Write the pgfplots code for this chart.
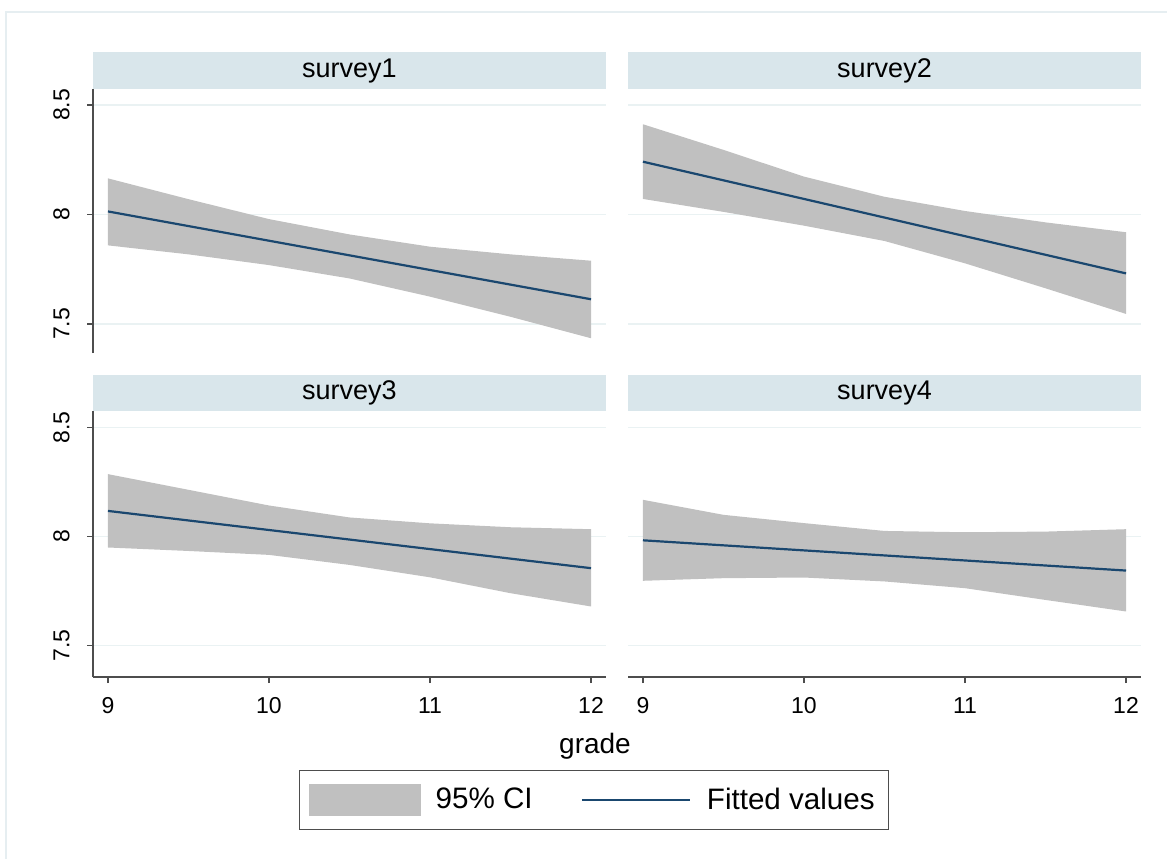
\documentclass[border=0pt]{standalone}
\usepackage{pgfplots}
\pgfplotsset{compat=1.18}
\usepackage{fontspec}
\setmainfont{Liberation Sans}
\definecolor{bandgray}{HTML}{C0C0C0}
\definecolor{navy}{HTML}{1A476F}
\definecolor{stripcol}{HTML}{D9E6EB}
\definecolor{gridcol}{HTML}{EAF2F3}
\definecolor{axiscol}{HTML}{4D4D4D}
\definecolor{framecol}{HTML}{E6EEF1}
\pgfplotsset{
  panel/.style={
    scale only axis, width=256.5pt,
    xmin=8.907, xmax=12.093,
    axis lines=left,
    axis line style={-, draw=axiscol, line width=0.7pt},
    tick align=outside, major tick length=3pt,
    tick style={draw=axiscol, line width=0.7pt},
    xtick={9,10,11,12}, ytick={7.5,8,8.5},
    ymajorgrids, grid style={draw=gridcol, line width=0.7pt},
    ticklabel style={font=\fontsize{11.5}{13}\selectfont},
    /pgf/number format/assume math mode=true,
    yticklabel style={xshift=-8.5pt, rotate=90, anchor=south, inner sep=0pt},
    xticklabel style={anchor=north, inner sep=0pt, yshift=-7pt},
    clip=false,
  },
  toprow/.style={height=132pt, ymin=7.3676, ymax=8.573,
    x axis line style={draw=none}, xtick=\empty},
  botrow/.style={height=133pt, ymin=7.354, ymax=8.576},
  rightcol/.style={y axis line style={draw=none}, yticklabels={}, ytick style={draw=none}},
  band/.style={fill=bandgray, draw=none, forget plot},
  fit/.style={draw=navy, line width=1.1pt, forget plot},
}
\newcommand{\PX}[2]{({#1*0.5pt},{(859-#2)*0.5pt})}
\begin{document}
\begin{tikzpicture}
% outer frame (left and top)
\draw[framecol, line width=0.8pt] \PX{6}{859} -- \PX{6}{12} -- \PX{1167}{12};
% strips
\fill[stripcol] \PX{93}{52} rectangle \PX{606}{89};
\fill[stripcol] \PX{628}{52} rectangle \PX{1141}{89};
\fill[stripcol] \PX{93}{375} rectangle \PX{606}{411};
\fill[stripcol] \PX{628}{375} rectangle \PX{1141}{411};
\node[font=\fontsize{13.5}{15}\selectfont] at \PX{349.5}{71} {survey1};
\node[font=\fontsize{13.5}{15}\selectfont] at \PX{884.5}{71} {survey2};
\node[font=\fontsize{13.5}{15}\selectfont] at \PX{349.5}{393} {survey3};
\node[font=\fontsize{13.5}{15}\selectfont] at \PX{884.5}{393} {survey4};

% survey1
\begin{axis}[panel, toprow, at={(46.5pt,253pt)}, anchor=south west]
\addplot[band] coordinates {(9,8.165) (9.5,8.070) (10,7.979) (10.5,7.909) (11,7.853) (11.5,7.818) (12,7.789)
 (12,7.435) (11.5,7.533) (11,7.625) (10.5,7.708) (10,7.769) (9.5,7.818) (9,7.859)} -- cycle;
\addplot[fit] coordinates {(9,8.014) (12,7.613)};
\end{axis}
% survey2
\begin{axis}[panel, toprow, rightcol, at={(314pt,253pt)}, anchor=south west]
\addplot[band] coordinates {(9,8.412) (9.5,8.295) (10,8.173) (10.5,8.081) (11,8.016) (11.5,7.964) (12,7.919)
 (12,7.546) (11.5,7.663) (11,7.777) (10.5,7.879) (10,7.949) (9.5,8.012) (9,8.071)} -- cycle;
\addplot[fit] coordinates {(9,8.241) (12,7.731)};
\end{axis}
% survey3
\begin{axis}[panel, botrow, at={(46.5pt,91pt)}, anchor=south west,
  legend style={at={(0.9766,-0.4624)}, anchor=center, draw=axiscol, line width=0.7pt,
    font=\fontsize{14.8}{17}\selectfont, inner xsep=5pt, inner ysep=6.5pt,
    /tikz/every even column/.append style={column sep=22pt}},
  legend columns=2]
\addplot[band] coordinates {(9,8.286) (9.5,8.214) (10,8.142) (10.5,8.087) (11,8.060) (11.5,8.042) (12,8.033)
 (12,7.678) (11.5,7.739) (11,7.812) (10.5,7.869) (10,7.915) (9.5,7.933) (9,7.949)} -- cycle;
\addplot[fit] coordinates {(9,8.117) (12,7.854)};
\addlegendimage{legend image code/.code={\fill[bandgray] (0pt,-7.5pt) rectangle (55pt,7.5pt);}}
\addlegendentry{\hspace{5.5pt}95\% CI}
\addlegendimage{legend image code/.code={\draw[navy, line width=1.1pt] (0pt,0pt) -- (54pt,0pt);}}
\addlegendentry{\hspace{6pt}Fitted values}
\end{axis}
% survey4
\begin{axis}[panel, botrow, rightcol, at={(314pt,91pt)}, anchor=south west]
\addplot[band] coordinates {(9,8.168) (9.5,8.099) (10,8.061) (10.5,8.025) (11,8.019) (11.5,8.022) (12,8.033)
 (12,7.655) (11.5,7.708) (11,7.762) (10.5,7.793) (10,7.811) (9.5,7.808) (9,7.796)} -- cycle;
\addplot[fit] coordinates {(9,7.982) (12,7.843)};
\end{axis}
\node[font=\fontsize{14}{16}\selectfont] at \PX{595}{746} {grade};
\pgfresetboundingbox
\useasboundingbox (0,0) rectangle (583.5pt,429.5pt);
\end{tikzpicture}
\end{document}
